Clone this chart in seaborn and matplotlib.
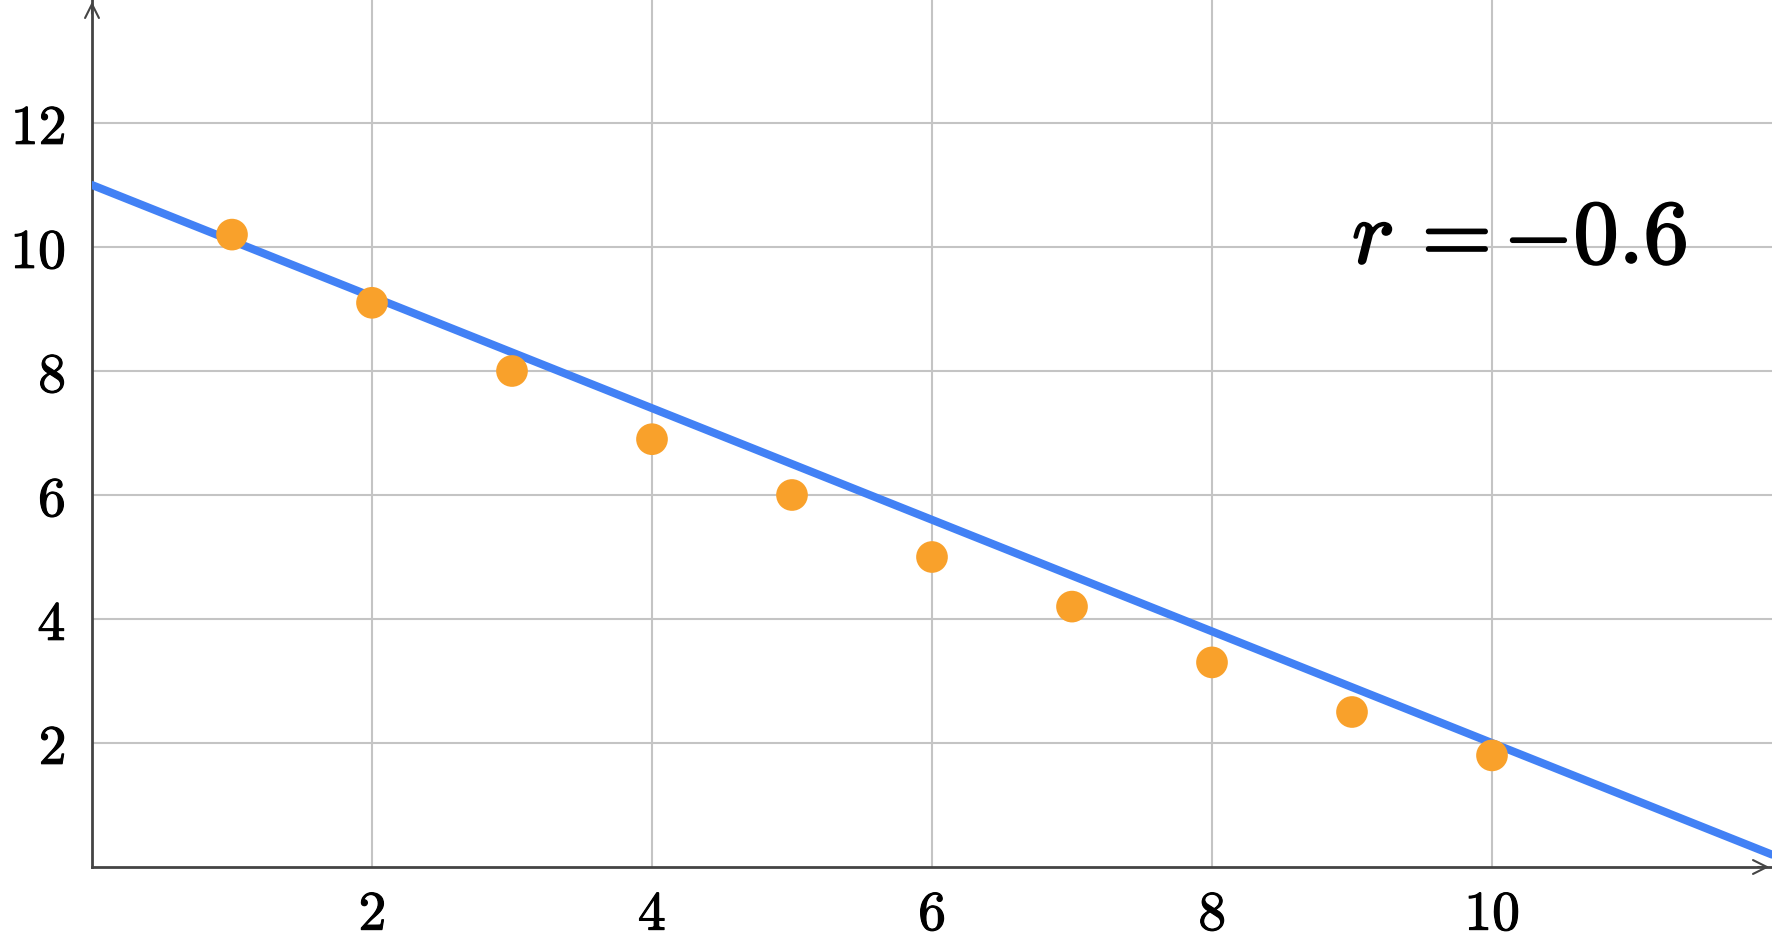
import matplotlib
matplotlib.use('Agg')
import matplotlib.pyplot as plt
import matplotlib.patheffects as pe
import seaborn as sns
import pandas as pd

# data
x_points = [1, 2, 3, 4, 5, 6, 7, 8, 9, 10]
y_points = [10.2, 9.1, 8.0, 6.9, 6.0, 5.0, 4.2, 3.3, 2.5, 1.8]
line_x = [0, 12]
line_y = [11.0, 0.2]
x_ticks = [2, 4, 6, 8, 10]
y_ticks = [2, 4, 6, 8, 10, 12]
label_text = r'$r\,=\!\!\;{-}0.6$'

sns.set_style('white')
plt.rcParams['mathtext.fontset'] = 'cm'
plt.rcParams['text.color'] = 'black'

fig = plt.figure(figsize=(17.72, 9.44), dpi=100)
ax = fig.add_axes([92 / 1772, 77 / 944, 1680 / 1772, 868 / 944])

pts = pd.DataFrame({'x': x_points, 'y': y_points})
fit = pd.DataFrame({'x': line_x, 'y': line_y})

sns.lineplot(data=fit, x='x', y='y', ax=ax, color='#4281f5', linewidth=5.8, zorder=3)
sns.scatterplot(data=pts, x='x', y='y', ax=ax, color='#f9a12b', s=520,
                edgecolor='none', zorder=4)

ax.set_xlim(0, 12)
ax.set_ylim(0, 14)
ax.set_xticks(x_ticks)
ax.set_yticks(y_ticks)
bold = [pe.withStroke(linewidth=0.8, foreground='black')]
ax.set_xticklabels([f'${t}$' for t in x_ticks], fontsize=40, path_effects=bold)
ax.set_yticklabels([f'${t}$' for t in y_ticks], fontsize=40, path_effects=bold)
ax.set_xlabel('')
ax.set_ylabel('')

ax.grid(True, color='#c4c4c4', linewidth=1.5)
ax.set_axisbelow(True)
ax.tick_params(axis='both', direction='inout', length=20, width=1.5,
               color='#999999', labelcolor='black')
ax.tick_params(axis='x', pad=5)
ax.tick_params(axis='y', pad=9)

for side in ['top', 'right']:
    ax.spines[side].set_visible(False)
for side in ['left', 'bottom']:
    ax.spines[side].set_color('#444444')
    ax.spines[side].set_linewidth(2)

# arrow heads on the axes
ax.annotate('', xy=(1.0, 0), xytext=(0.99, 0), xycoords='axes fraction',
            arrowprops=dict(arrowstyle='->', color='#444444', lw=1.5,
                            mutation_scale=25), annotation_clip=False)
ax.annotate('', xy=(0, 1.0), xytext=(0, 0.98), xycoords='axes fraction',
            arrowprops=dict(arrowstyle='->', color='#444444', lw=1.5,
                            mutation_scale=25), annotation_clip=False)

ax.text(9.0, 9.74, label_text, fontsize=65, ha='left', va='baseline', zorder=5,
        color='black', path_effects=[pe.withStroke(linewidth=1.5, foreground='black')])

plt.savefig('out.png', dpi=100)
